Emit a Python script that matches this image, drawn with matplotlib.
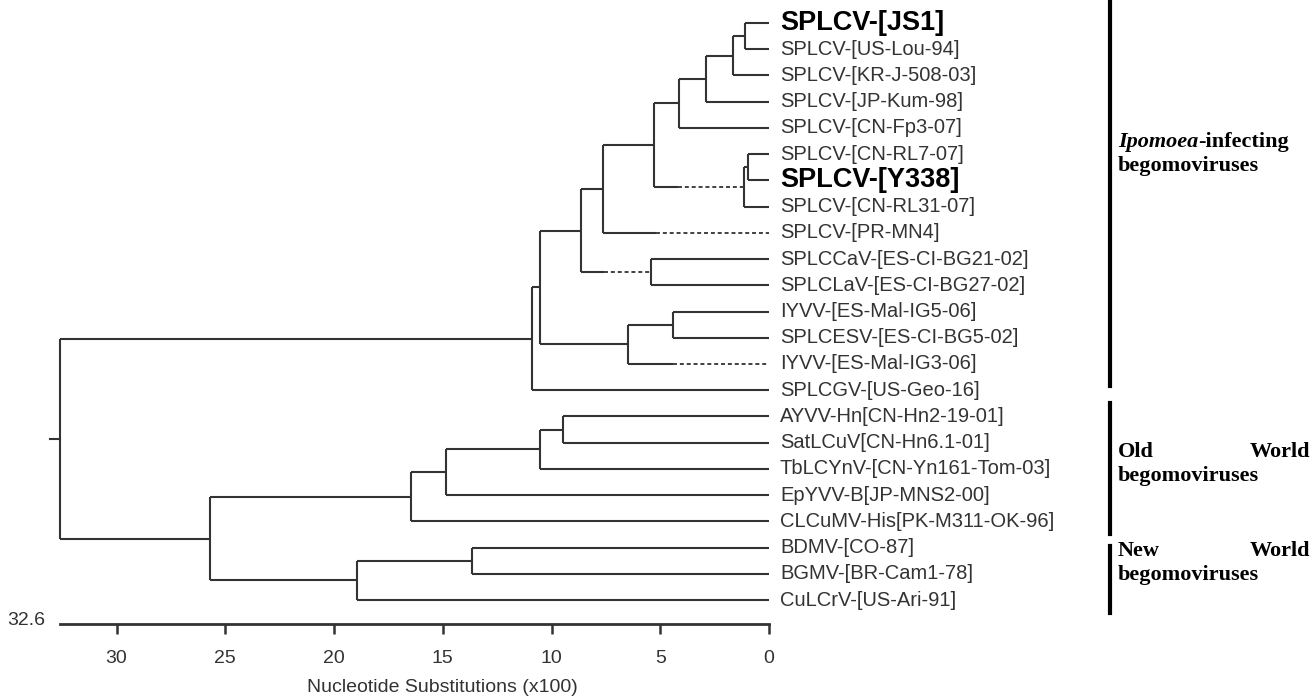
import numpy as np
import matplotlib
matplotlib.use("Agg")
import matplotlib.pyplot as plt

# leaf order top -> bottom
leaves = [
    "SPLCV-[JS1]", "SPLCV-[US-Lou-94]", "SPLCV-[KR-J-508-03]", "SPLCV-[JP-Kum-98]",
    "SPLCV-[CN-Fp3-07]", "SPLCV-[CN-RL7-07]", "SPLCV-[Y338]", "SPLCV-[CN-RL31-07]",
    "SPLCV-[PR-MN4]", "SPLCCaV-[ES-CI-BG21-02]", "SPLCLaV-[ES-CI-BG27-02]",
    "IYVV-[ES-Mal-IG5-06]", "SPLCESV-[ES-CI-BG5-02]", "IYVV-[ES-Mal-IG3-06]",
    "SPLCGV-[US-Geo-16]", "AYVV-Hn[CN-Hn2-19-01]", "SatLCuV[CN-Hn6.1-01]",
    "TbLCYnV-[CN-Yn161-Tom-03]", "EpYVV-B[JP-MNS2-00]", "CLCuMV-His[PK-M311-OK-96]",
    "BDMV-[CO-87]", "BGMV-[BR-Cam1-78]", "CuLCrV-[US-Ari-91]",
]
bold_leaves = ["SPLCV-[JS1]", "SPLCV-[Y338]"]

# merges: node, left child, right child, height (x100 substitutions)
merges = [
    ("n1", "SPLCV-[JS1]", "SPLCV-[US-Lou-94]", 1.10),
    ("n2", "n1", "SPLCV-[KR-J-508-03]", 1.65),
    ("n3", "n2", "SPLCV-[JP-Kum-98]", 2.88),
    ("n4", "n3", "SPLCV-[CN-Fp3-07]", 4.13),
    ("n5", "SPLCV-[CN-RL7-07]", "SPLCV-[Y338]", 0.95),
    ("n6", "n5", "SPLCV-[CN-RL31-07]", 1.15),
    ("n7", "n4", "n6", 5.27),
    ("n8", "n7", "SPLCV-[PR-MN4]", 7.63),
    ("n9", "SPLCCaV-[ES-CI-BG21-02]", "SPLCLaV-[ES-CI-BG27-02]", 5.41),
    ("n10", "n8", "n9", 8.63),
    ("n11", "IYVV-[ES-Mal-IG5-06]", "SPLCESV-[ES-CI-BG5-02]", 4.42),
    ("n12", "n11", "IYVV-[ES-Mal-IG3-06]", 6.47),
    ("n13", "n10", "n12", 10.55),
    ("n14", "n13", "SPLCGV-[US-Geo-16]", 10.90),
    ("n15", "AYVV-Hn[CN-Hn2-19-01]", "SatLCuV[CN-Hn6.1-01]", 9.45),
    ("n16", "n15", "TbLCYnV-[CN-Yn161-Tom-03]", 10.55),
    ("n17", "n16", "EpYVV-B[JP-MNS2-00]", 14.86),
    ("n18", "n17", "CLCuMV-His[PK-M311-OK-96]", 16.47),
    ("n19", "BDMV-[CO-87]", "BGMV-[BR-Cam1-78]", 13.67),
    ("n20", "n19", "CuLCrV-[US-Ari-91]", 18.94),
    ("n21", "n18", "n20", 25.69),
    ("root", "n14", "n21", 32.6),
]
# branches drawn partly dashed: dashed from this height to the child
dashed_from = {
    "n6": 4.17,
    "SPLCV-[PR-MN4]": 5.2,
    "n9": 7.6,
    "IYVV-[ES-Mal-IG3-06]": 4.4,
}
root_stub = 33.06
xticks = [30, 25, 20, 15, 10, 5, 0]

# group bars: top px, bottom px
groups = [(0, 386), (403, 534), (546, 613)]

W, H = 1314, 698
fig = plt.figure(figsize=(W / 100, H / 100), dpi=100)
ax_bottom_px = 624
ax = fig.add_axes([0, (H - ax_bottom_px) / H, 1, ax_bottom_px / H])
ppu = 21.75
x0px = 769
row0, drow = 23, 26.23
ax.set_xlim(x0px / ppu, -(W - x0px) / ppu)
ax.set_ylim((ax_bottom_px - row0) / drow, -row0 / drow)

lc = "#333333"
lw = 1.5

ypos = {name: i for i, name in enumerate(leaves)}
xpos = {name: 0.0 for name in leaves}
for node, a, b, h in merges:
    ypos[node] = (ypos[a] + ypos[b]) / 2
    xpos[node] = h
    ax.plot([h, h], [ypos[a], ypos[b]], color=lc, lw=lw, solid_capstyle="butt")
    for c in (a, b):
        if c in dashed_from:
            d = dashed_from[c]
            ax.plot([h, d], [ypos[c], ypos[c]], color=lc, lw=lw, solid_capstyle="butt")
            ax.plot([d, xpos[c]], [ypos[c], ypos[c]], color=lc, lw=1.3,
                    linestyle=(0, (2.2, 1.6)))
        else:
            ax.plot([h, xpos[c]], [ypos[c], ypos[c]], color=lc, lw=lw,
                    solid_capstyle="butt")
ax.plot([root_stub, xpos["root"]], [ypos["root"]] * 2, color=lc, lw=lw)

for name in leaves:
    if name in bold_leaves:
        ax.text(-0.5, ypos[name], name, fontsize=19.5, fontweight="bold",
                family="Liberation Sans", color="black", va="center", ha="left")
    else:
        ax.text(-0.5, ypos[name], name, fontsize=14.5, family="Liberation Sans",
                color=lc, va="center", ha="left")

# axis
for s in ["top", "right", "left"]:
    ax.spines[s].set_visible(False)
ax.spines["bottom"].set_bounds(0, 32.6)
ax.spines["bottom"].set_linewidth(2)
ax.spines["bottom"].set_color(lc)
ax.set_yticks([])
ax.set_xticks(xticks)
ax.set_xticklabels([str(t) for t in xticks], fontsize=14, family="Liberation Sans",
                   color=lc)
ax.tick_params(axis="x", length=7, width=1.8, color=lc, pad=12)
ax.text(33.3, (621 - row0) / drow, "32.6", fontsize=14,
        family="Liberation Sans", color=lc, ha="right", va="center")
fig.text(442 / W, 1 - 687 / H, "Nucleotide Substitutions (x100)", fontsize=14,
         family="Liberation Sans", color=lc, ha="center", va="center")

# group bars and labels
bar_x = 1110
for top, bot in groups:
    fig.add_artist(plt.Line2D([bar_x / W] * 2, [1 - top / H, 1 - bot / H],
                              color="black", lw=3))
tx = 1118 / W
serif = "Liberation Serif"
fs = 16
t1 = fig.text(tx, 1 - 142 / H, "Ipomoea", fontsize=fs, family=serif, style="italic",
              weight="bold", va="center", ha="left")
fig.canvas.draw()
bb = t1.get_window_extent()
fig.text(bb.x1 / W, 1 - 142 / H, "-infecting", fontsize=fs, family=serif,
         weight="bold", va="center", ha="left")
fig.text(tx, 1 - 166 / H, "begomoviruses", fontsize=fs, family=serif, weight="bold",
         va="center", ha="left")
for word, yy in [("Old", 452), ("New", 551)]:
    fig.text(tx, 1 - yy / H, word, fontsize=fs, family=serif, weight="bold",
             va="center", ha="left")
    fig.text(1310 / W, 1 - yy / H, "World", fontsize=fs, family=serif, weight="bold",
             va="center", ha="right")
    fig.text(tx, 1 - (yy + 24) / H, "begomoviruses", fontsize=fs, family=serif,
             weight="bold", va="center", ha="left")

fig.savefig("out.png", dpi=100, facecolor="white")
